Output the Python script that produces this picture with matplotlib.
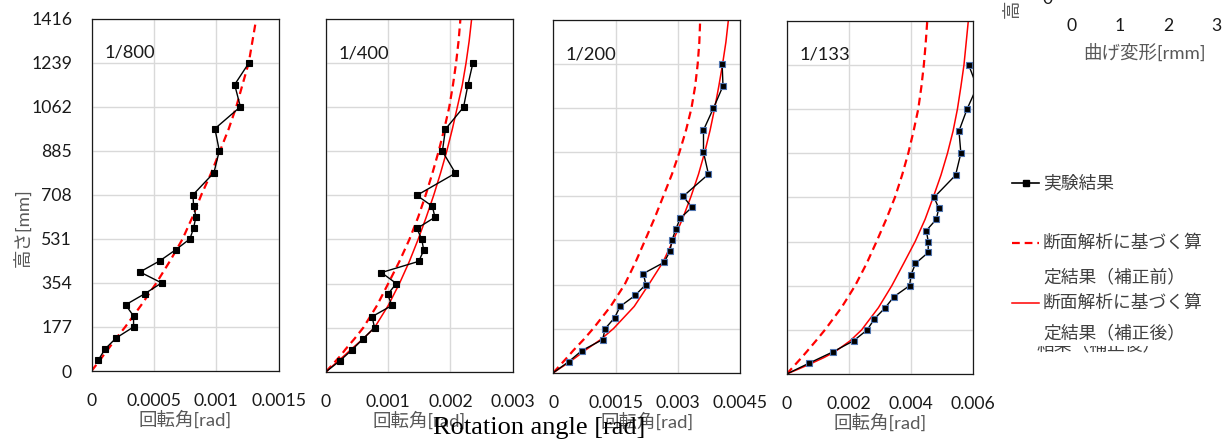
"""
Rotation angle distribution along the height, four drift levels.
"""

import matplotlib

matplotlib.use("Agg")
import matplotlib.pyplot as plt
from matplotlib.lines import Line2D
from matplotlib.patches import Rectangle

plt.rcParams["font.family"] = ["Lato", "Noto Sans CJK JP"]

W, H = 1226, 440

# ---- data ----
drift_labels = ["1/800", "1/400", "1/200", "1/133"]
x_ticks = [
    [0, 0.0005, 0.001, 0.0015],
    [0, 0.001, 0.002, 0.003],
    [0, 0.0015, 0.003, 0.0045],
    [0, 0.002, 0.004, 0.006],
]
height_ticks = [0, 177, 354, 531, 708, 885, 1062, 1239, 1416]

# experiment: measuring heights [mm]
h_exp = [44, 89, 133, 177, 221, 266, 310, 354, 398, 443, 487, 531,
         575, 620, 664, 708, 797, 885, 974, 1062, 1151, 1239]
rot_800 = [0.000054, 0.00011, 0.000198, 0.000337, 0.000337, 0.000273,
           0.000425, 0.000562, 0.000388, 0.000548, 0.000674, 0.000789,
           0.000818, 0.000837, 0.000818, 0.000813, 0.000981, 0.001024,
           0.000989, 0.001193, 0.001147, 0.001262]
rot_400 = [0.000225, 0.000423, 0.0006, 0.00078, 0.00074, 0.00106,
           0.00099, 0.00113, 0.00089, 0.00149, 0.00157, 0.00154,
           0.00146, 0.00175, 0.00171, 0.00146, 0.00208, 0.00187,
           0.00192, 0.00221, 0.00228, 0.00236]
rot_200 = [0.00037, 0.00069, 0.00119, 0.00125, 0.00148, 0.00161,
           0.00197, 0.00223, 0.00217, 0.00267, 0.00281, 0.00286,
           0.00295, 0.00306, 0.00334, 0.00313, 0.00374, 0.00362,
           0.00362, 0.00386, 0.00409, 0.00407]
rot_133 = [0.00073, 0.00149, 0.00215, 0.00259, 0.00282, 0.00317,
           0.00345, 0.00395, 0.004, 0.00414, 0.00455, 0.00455,
           0.00449, 0.00481, 0.00489, 0.00474, 0.00543, 0.0056,
           0.00554, 0.0058, 0.00612, 0.00585]
# line from the base (0, 0) for all but 1/800
from_origin = [False, True, True, True]

# section analysis (before / after correction)
h_calc = [0, 22, 44, 66, 89, 133, 177, 266, 354, 443, 531, 620, 708,
          797, 885, 974, 1062, 1151, 1239, 1327, 1416]
before_800 = [0, 0.000034, 0.000068, 0.0001, 0.000135, 0.0002, 0.00027, 0.0004,
              0.00052, 0.00063, 0.00073, 0.00081, 0.00088, 0.00096, 0.00103,
              0.0011, 0.00116, 0.00121, 0.00126, 0.00129, 0.00132]
before_400 = [0, 0.00008, 0.00016, 0.00024, 0.00031, 0.00046, 0.0006, 0.00082,
              0.001, 0.00118, 0.00134, 0.00148, 0.0016, 0.00171, 0.00181,
              0.0019, 0.00198, 0.00204, 0.00209, 0.00213, 0.00216]
after_400 = [0, 0.0001, 0.0002, 0.0003, 0.0004, 0.0006, 0.00078, 0.001,
             0.00118, 0.00134, 0.00148, 0.00161, 0.00173, 0.00184, 0.00194,
             0.00203, 0.00211, 0.00219, 0.00225, 0.0023, 0.00234]
before_200 = [0, 0.00012, 0.00024, 0.00036, 0.00048, 0.00073, 0.00096, 0.00138,
              0.00172, 0.00198, 0.00221, 0.00244, 0.00265, 0.00286, 0.00304,
              0.0032, 0.00333, 0.00342, 0.00348, 0.00352, 0.00354]
after_200 = [0, 0.0002, 0.0004, 0.00058, 0.00076, 0.00114, 0.00145, 0.00195,
             0.0023, 0.00264, 0.00289, 0.00312, 0.00332, 0.0035, 0.00365,
             0.00378, 0.00389, 0.00399, 0.00408, 0.00416, 0.00422]
before_133 = [0, 0.00016, 0.00032, 0.00048, 0.00064, 0.00094, 0.00123, 0.00176,
              0.0022, 0.00257, 0.00289, 0.0032, 0.00348, 0.00371, 0.00391,
              0.00408, 0.00423, 0.00433, 0.00441, 0.00447, 0.00452]
after_133 = [0, 0.00042, 0.00082, 0.0012, 0.00155, 0.00204, 0.00241, 0.00295,
             0.00338, 0.00376, 0.00413, 0.00445, 0.00471, 0.00496, 0.00517,
             0.00535, 0.00549, 0.0056, 0.0057, 0.00577, 0.00584]

exp_series = [rot_800, rot_400, rot_200, rot_133]
calc_before = [before_800, before_400, before_200, before_133]
calc_after = [None, after_400, after_200, after_133]

legend_labels = ["実験結果", "断面解析に基づく算", "定結果（補正前）",
                 "断面解析に基づく算", "定結果（補正後）"]

# ---- layout helpers (pixel boxes: left, top, right, bottom) ----
boxes = [(91.5, 18.7, 278.7, 371.0), (326.0, 19.0, 512.7, 371.7),
         (553.3, 20.0, 740.0, 372.7), (786.7, 20.7, 973.3, 374.0)]


def px_box(l, t, r, b):
    return [l / W, 1 - b / H, (r - l) / W, (b - t) / H]


def fx(x):
    return x / W


def fy(y):
    return 1 - y / H


TICK_FS = 12.7
LABEL_FS = 13.3
LEG_FS = 12.8
GRAY = "#595959"
DASH = (0, (3.5, 2.2))
marker_edges = ["black", "black", "#4f74b0", "#4f74b0"]

fig = plt.figure(figsize=(W / 100, H / 100), dpi=100)

for i in range(4):
    ax = fig.add_axes(px_box(*boxes[i]))
    xmax = x_ticks[i][-1]
    ax.set_xlim(0, xmax)
    ax.set_ylim(0, 1416)
    ax.set_xticks(x_ticks[i])
    ax.set_xticklabels([f"{t:g}" for t in x_ticks[i]])
    ax.set_yticks(height_ticks)
    ax.grid(True, color="#d9d9d9", lw=1.0)
    ax.set_axisbelow(True)
    ax.tick_params(length=0, labelsize=TICK_FS, colors="#1a1a1a")
    ax.tick_params(axis="x", pad=16)
    ax.tick_params(axis="y", pad=14)
    if i > 0:
        ax.tick_params(labelleft=False)
    for s in ax.spines.values():
        s.set_color("#1a1a1a")
        s.set_linewidth(0.9)

    ax.plot(calc_before[i], h_calc, color="red", ls=DASH, lw=1.6)
    if calc_after[i] is not None:
        ax.plot(calc_after[i], h_calc, color="red", lw=1.1)

    xs = list(exp_series[i])
    hs = list(h_exp)
    if from_origin[i]:
        xs = [0] + xs
        hs = [0] + hs
    show = [(x > 0) and (x <= xmax) for x in xs]
    ax.plot(xs, hs, color="black", lw=1.0, marker="s", ms=4.0,
            mfc="black", mec=marker_edges[i], mew=0.8, markevery=show)

    ax.text(0.068, 0.903, drift_labels[i], transform=ax.transAxes,
            fontsize=TICK_FS + 0.5, color="#1a1a1a", va="center", ha="left")
    ax.set_xlabel("回転角[rad]", fontsize=LABEL_FS, color=GRAY, va="top")
    ax.xaxis.set_label_coords(0.5, -0.113)

fig.text(fx(22), fy(228), "高さ[mm]", rotation=90, ha="center", va="center",
         fontsize=LABEL_FS, color=GRAY)

fig.text(fx(539), fy(428), "Rotation angle [rad]", ha="center", va="center",
         fontsize=19, family="Liberation Serif", color="black")

# fragment of a neighbouring chart, cut off at the top right
frag = fig.add_axes([fx(1071.7), fy(-3), (1216.7 - 1071.7) / W, 352 / H])
frag.set_xlim(0, 3)
frag.set_ylim(0, 1)
frag.set_xticks([0, 1, 2, 3])
frag.set_yticks([0])
frag.tick_params(length=0, labelsize=TICK_FS, colors="#1a1a1a")
frag.tick_params(axis="x", pad=15)
frag.tick_params(axis="y", pad=14)
for s in frag.spines.values():
    s.set_visible(False)
frag.patch.set_visible(False)
frag.set_xlabel("曲げ変形[rmm]", fontsize=LABEL_FS, color=GRAY, va="top")
frag.xaxis.set_label_coords(0.5, -0.133)
fig.text(fx(1011), fy(18), "高さ[mm]", rotation=90, ha="center", va="bottom",
         fontsize=LABEL_FS, color=GRAY)

# legend, drawn like the spreadsheet one (handle on the first line)
leg_x0, leg_x1, text_x = 1012, 1039, 1043
fig.add_artist(Line2D([fx(leg_x0), fx(leg_x1)], [fy(183), fy(183)], color="black",
                      lw=1.2))
fig.add_artist(Line2D([fx((leg_x0 + leg_x1) / 2)], [fy(183)], color="black",
                      marker="s", ms=4.0, ls="none"))
fig.add_artist(Line2D([fx(leg_x0), fx(leg_x1)], [fy(243), fy(243)], color="red",
                      lw=1.6, ls=DASH))
fig.add_artist(Line2D([fx(leg_x0), fx(leg_x1)], [fy(303), fy(303)], color="red",
                      lw=1.1))
# ghost text partly hidden behind the legend box
fig.text(fx(1037), fy(345), "結果（補正後）", fontsize=LEG_FS, color="#404040",
         va="center", ha="left", zorder=1)
fig.add_artist(Rectangle((fx(1030), fy(345.5)), fx(170), 12 / H,
                         transform=fig.transFigure, facecolor="white",
                         edgecolor="none", zorder=2))
for label, y in zip(legend_labels, [183, 243, 277, 303, 333]):
    fig.text(fx(text_x), fy(y), label, fontsize=LEG_FS, color="#404040",
             va="center", ha="left", zorder=3)

fig.savefig("out.png", dpi=100)
